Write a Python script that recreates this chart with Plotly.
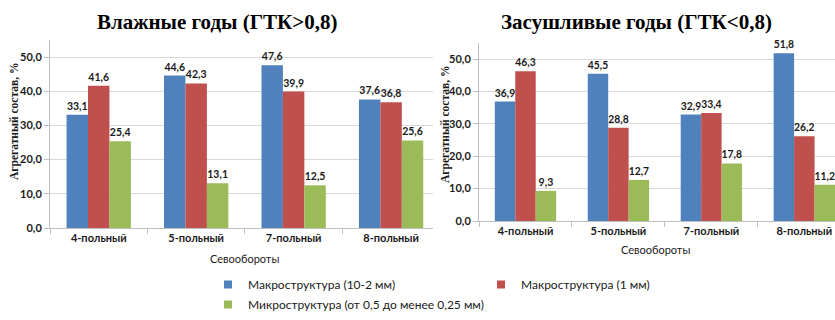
import plotly.graph_objects as go

# Crop rotations (categories)
rotations = ["4-польный", "5-польный", "7-польный", "8-польный"]

# Wet years (HTC > 0.8), %
wet_macro_10_2 = [33.1, 44.6, 47.6, 37.6]
wet_macro_1 = [41.6, 42.3, 39.9, 36.8]
wet_micro = [25.4, 13.1, 12.5, 25.6]

# Dry years (HTC < 0.8), %
dry_macro_10_2 = [36.9, 45.5, 32.9, 51.8]
dry_macro_1 = [46.3, 28.8, 33.4, 26.2]
dry_micro = [9.3, 12.7, 17.8, 11.2]

series_names = [
    "Макроструктура (10-2 мм)",
    "Макроструктура (1 мм)",
    "Микроструктура (от 0,5 до менее 0,25 мм)",
]
colors = ["#4F81BD", "#C0504D", "#9BBB59"]
# first two entries share the top legend row, the third sits below
legend_rows = ["legend", "legend", "legend2"]

W, H = 835, 320
SANS = "Lato, 'Open Sans', sans-serif"
SERIF = "'Liberation Serif', 'Times New Roman', serif"


def px(x):
    return x / W


def py(y):
    return (H - y) / H


fig = go.Figure()

panels = [
    ("x", "y", [wet_macro_10_2, wet_macro_1, wet_micro]),
    ("x2", "y2", [dry_macro_10_2, dry_macro_1, dry_micro]),
]
for xa, ya, data in panels:
    for name, vals, col in zip(series_names, data, colors):
        fig.add_trace(go.Bar(
            x=rotations, y=vals, name=name, marker_color=col,
            marker_line_width=0,
            texttemplate="%{y:.1f}", textposition="outside",
            textfont=dict(family=SANS, size=10.5, color="#1a1a1a", weight="bold"),
            cliponaxis=False, showlegend=False, legendgroup=name,
            xaxis=xa, yaxis=ya, hoverinfo="skip",
        ))

# Legend entries with small square swatches
for name, col, lg in zip(series_names, colors, legend_rows):
    fig.add_trace(go.Scatter(
        x=[None], y=[None], mode="markers", name=name, legendgroup=name,
        marker=dict(symbol="square", size=8, color=col),
        showlegend=True, legend=lg, xaxis="x", yaxis="y",
    ))

axis_common_x = dict(
    type="category", showgrid=False, showline=True, linecolor="#bfbfbf",
    linewidth=1, ticks="outside", tickson="boundaries", ticklen=5,
    tickcolor="#bfbfbf", tickfont=dict(family=SANS, size=11, color="#1a1a1a", weight="bold"),
    fixedrange=True,
)
axis_common_y = dict(
    range=[0, 55], dtick=10, tick0=0, tickformat=".1f", showgrid=True,
    gridcolor="#d9d9d9", gridwidth=1, showline=True, linecolor="#bfbfbf",
    ticks="outside", ticklen=5, tickcolor="#bfbfbf", zeroline=False,
    tickfont=dict(family=SANS, size=11, color="#1a1a1a", weight="bold"),
    fixedrange=True,
)

legend_common = dict(
    orientation="h", xanchor="left", yanchor="top", traceorder="normal",
    font=dict(family=SANS, size=12, color="#1a1a1a"),
    itemclick=False, itemdoubleclick=False, bgcolor="rgba(0,0,0,0)",
)

fig.update_layout(
    width=W, height=H,
    margin=dict(l=0, r=0, t=0, b=0, autoexpand=False),
    paper_bgcolor="white", plot_bgcolor="white",
    template="none",
    separators=", ",
    barmode="group", bargap=0.34, bargroupgap=0,
    xaxis=dict(axis_common_x, domain=[px(50), px(433)], range=[-0.5, 3.43], anchor="y"),
    yaxis=dict(axis_common_y, domain=[py(228), py(40)], anchor="x"),
    xaxis2=dict(axis_common_x, domain=[px(479), 1.0], range=[-0.5, 3.33], anchor="y2"),
    yaxis2=dict(axis_common_y, domain=[py(221), py(43)], anchor="x2"),
    legend=dict(legend_common, x=px(208), y=py(270),
                entrywidth=228, entrywidthmode="pixels"),
    legend2=dict(legend_common, x=px(208), y=py(290)),
    showlegend=True,
)

annotations = [
    dict(text="<b>Влажные годы (ГТК>0,8)</b>", x=px(217), y=py(22),
         font=dict(family=SERIF, size=21, color="black")),
    dict(text="<b>Засушливые годы (ГТК<0,8)</b>", x=px(636), y=py(22),
         font=dict(family=SERIF, size=21, color="black")),
    dict(text="<b>Агрегатный состав, %</b>", x=px(14), y=py(122), textangle=-90,
         font=dict(family=SERIF, size=11.5, color="#1a1a1a")),
    dict(text="<b>Агрегатный состав, %</b>", x=px(445), y=py(125), textangle=-90,
         font=dict(family=SERIF, size=11.5, color="#1a1a1a")),
    dict(text="Севообороты", x=px(245), y=py(258),
         font=dict(family=SANS, size=11, color="#1a1a1a")),
    dict(text="Севообороты", x=px(655), y=py(249),
         font=dict(family=SANS, size=11, color="#1a1a1a")),
]
for a in annotations:
    a.update(xref="paper", yref="paper", showarrow=False,
             xanchor="center", yanchor="middle")
fig.update_layout(annotations=annotations)

fig.write_html("out.html")
